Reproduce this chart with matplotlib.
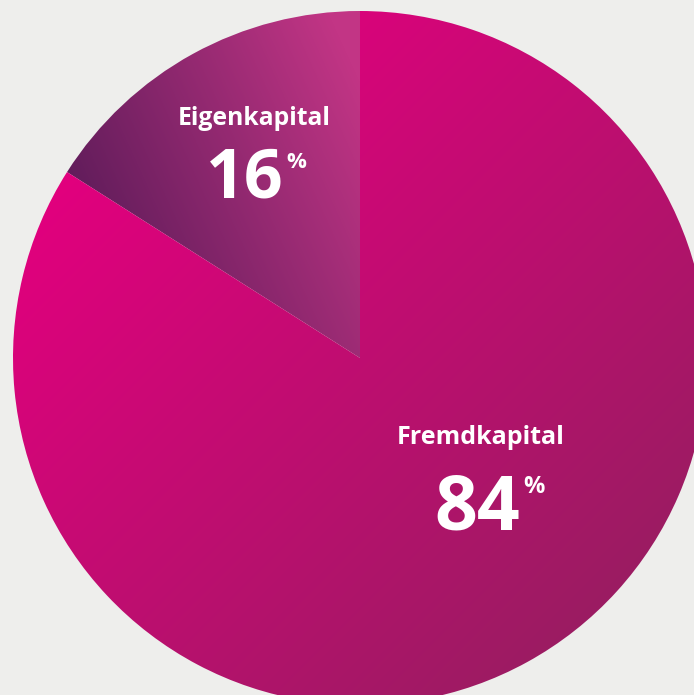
import numpy as np
import matplotlib
matplotlib.use('Agg')
import matplotlib.pyplot as plt
from matplotlib.colors import LinearSegmentedColormap

labels = ['Eigenkapital', 'Fremdkapital']
shares = [16, 84]

W, H = 694, 695
bg = '#eeeeec'

fig = plt.figure(figsize=(W / 100, H / 100), dpi=100, facecolor=bg)
ax = fig.add_axes([0, 0, 1, 1])
ax.set_facecolor(bg)

cx, cy, r = 360, H - 358, 347
wedges, _ = ax.pie(shares, startangle=90, counterclock=True,
                   radius=r, center=(cx, cy), frame=True,
                   wedgeprops=dict(facecolor='none', edgecolor='none'))

yy, xx = np.mgrid[0:H, 0:W]


def gradient(p0, p1, c0, c1):
    d = np.array(p1, float) - np.array(p0, float)
    t = ((xx - p0[0]) * d[0] + (yy - p0[1]) * d[1]) / (d @ d)
    t = np.clip(t, 0, 1)
    cmap = LinearSegmentedColormap.from_list('g', [c0, c1])
    return cmap(t)


# pixel coordinates (y down) for the gradient endpoints
fills = [
    gradient((75, 210), (360, 80), '#5f1c5a', '#c23585'),
    gradient((120, 120), (660, 660), '#e2007e', '#931f5f'),
]
for w, img in zip(wedges, fills):
    im = ax.imshow(img, extent=(0, W, 0, H), origin='upper', zorder=1)
    im.set_clip_path(w)

ax.set_xlim(0, W)
ax.set_ylim(0, H)
ax.set_aspect('equal')
ax.axis('off')

font = ['Open Sans', 'DejaVu Sans']
txt = dict(color='white', fontweight='bold', family=font, zorder=3)

# Eigenkapital label
ax.text(254, H - 125, labels[0], ha='center', va='baseline', fontsize=17.8, **txt)
ax.text(284, H - 197, f'{shares[0]}', ha='right', va='baseline', fontsize=49, **txt)
ax.text(286, H - 168, '%', ha='left', va='baseline', fontsize=16, **txt)

# Fremdkapital label
ax.text(481, H - 444, labels[1], ha='center', va='baseline', fontsize=18, **txt)
ax.text(520, H - 529, f'{shares[1]}', ha='right', va='baseline', fontsize=54, **txt)
ax.text(523, H - 493, '%', ha='left', va='baseline', fontsize=17, **txt)

fig.savefig('out.png', dpi=100, facecolor=bg)
